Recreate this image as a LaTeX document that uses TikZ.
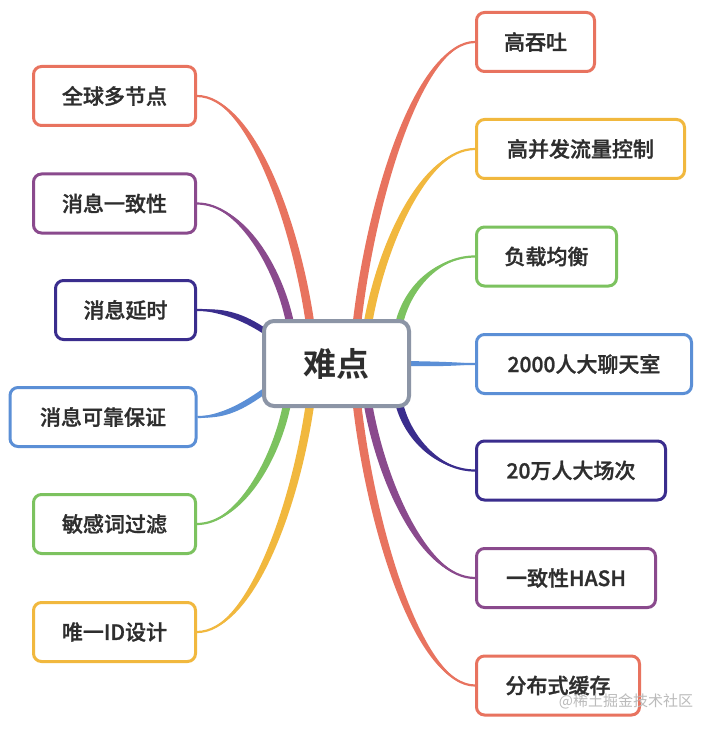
\documentclass[tikz,border=0pt]{standalone}
\usepackage{fontspec}
\setmainfont{Noto Sans CJK SC}[BoldFont={Noto Sans CJK SC Bold}]
\newfontfamily\labelfont{Noto Sans CJK SC Medium}[FakeBold=1.2]
\usetikzlibrary{calc}
\definecolor{cred}{HTML}{E8735F}
\definecolor{cyellow}{HTML}{F1B83E}
\definecolor{cgreen}{HTML}{7CC25F}
\definecolor{cblue}{HTML}{5B8FD6}
\definecolor{cindigo}{HTML}{3A2D8D}
\definecolor{cpurple}{HTML}{8A4A8D}
\definecolor{cgray}{HTML}{8C95A6}
\definecolor{textgray}{HTML}{2E2E2E}
\definecolor{wmgray}{HTML}{BBBBBB}
\pgfdeclarelayer{bglayer}
\pgfdeclarelayer{linelayer}
\pgfsetlayers{bglayer,linelayer,main}
% #1 colour, #2 start (centre side), #3 control near start, #4 control near end, #5 end (leaf side), #6 half-width offset
\newcommand\branchcurve[6]{%
  \fill[#1] (#5) .. controls ($(#4)+0.9*(#6)$) and ($(#3)+(#6)$) .. ($(#2)+(#6)$)
     -- ($(#2)-(#6)$) .. controls ($(#3)-(#6)$) and ($(#4)-0.9*(#6)$) .. (#5) -- cycle;
  \draw[#1, line width=2.2pt] (#5) .. controls (#4) and (#3) .. (#2);
}
\begin{document}
\begin{tikzpicture}[x=1pt,y=-1pt,
  leaf/.style={draw, line width=3pt, rounded corners=8pt, fill=white,
    minimum height=59pt, inner sep=0pt, anchor=center,
    font=\labelfont\fontsize{21}{25}\selectfont, text=textgray},
  hub/.style={draw=cgray, line width=4pt, rounded corners=10pt, fill=white,
    minimum width=145pt, minimum height=85pt, inner sep=0pt,
    font=\bfseries\fontsize{33}{40}\selectfont, text=textgray}]
\begin{pgfonlayer}{bglayer}
\fill[white] (0,0) rectangle (714,730);
\end{pgfonlayer}
\useasboundingbox (0,0) rectangle (714,730);

% centre
\node[hub] (c) at (336.5,363.5) {难点};

% right leaves
\node[leaf, draw=cred,    minimum width=118pt] (r1) at (535.5,42)    {高吞吐};
\node[leaf, draw=cyellow, minimum width=208pt] (r2) at (580.5,149)   {高并发流量控制};
\node[leaf, draw=cgreen,  minimum width=140pt] (r3) at (546.5,256.5) {负载均衡};
\node[leaf, draw=cblue,   minimum width=215pt] (r4) at (584,364)     {2000人大聊天室};
\node[leaf, draw=cindigo, minimum width=189pt] (r5) at (571,470.5)   {20万人大场次};
\node[leaf, draw=cpurple, minimum width=179pt] (r6) at (566,578)     {一致性HASH};
\node[leaf, draw=cred,    minimum width=163pt] (r7) at (558,685.5)   {分布式缓存};

% left leaves
\node[leaf, draw=cred,    minimum width=162pt] (l1) at (114.5,96)    {全球多节点};
\node[leaf, draw=cpurple, minimum width=162pt] (l2) at (114.5,203.5) {消息一致性};
\node[leaf, draw=cindigo, minimum width=140pt] (l3) at (125.5,310)   {消息延时};
\node[leaf, draw=cblue,   minimum width=186pt] (l4) at (103,417)     {消息可靠保证};
\node[leaf, draw=cgreen,  minimum width=162pt] (l5) at (114.5,524)   {敏感词过滤};
\node[leaf, draw=cyellow, minimum width=162pt] (l6) at (114.5,632)   {唯一ID设计};

% watermark
\node[font=\fontsize{15}{18}\selectfont, text=wmgray, inner sep=0pt] (wm) at (626,701) {@稀土掘金技术社区};

% attachment points on the centre box
\coordinate (sl1) at ($(c.north west)+(48,4)$);
\coordinate (sl2) at ($(c.north west)+(28,4)$);
\coordinate (sl3) at ($(c.north west)+(4,13)$);
\coordinate (sl4) at ($(c.south west)+(4,-18)$);
\coordinate (sl5) at ($(c.south west)+(25,-4)$);
\coordinate (sl6) at ($(c.south west)+(48,-4)$);
\coordinate (sr1) at ($(c.north west)+(95,4)$);
\coordinate (sr2) at ($(c.north west)+(106,4)$);
\coordinate (sr3) at ($(c.north west)+(137,5)$);
\coordinate (sr4) at ($(c.east)+(-4,0)$);
\coordinate (sr5) at ($(c.south west)+(137,-5)$);
\coordinate (sr6) at ($(c.south west)+(106,-4)$);
\coordinate (sr7) at ($(c.south west)+(95,-4)$);

\begin{pgfonlayer}{linelayer}
\branchcurve{cred}{sl1}{295,220}{250,96}{l1.east}{4.3,0}
\branchcurve{cpurple}{sl2}{279,268}{241,203.5}{l2.east}{4,0}
\branchcurve{cindigo}{sl3}{245,318}{225,310}{l3.east}{0,3.5}
\branchcurve{cblue}{sl4}{245,405}{225,417}{l4.east}{0,3.5}
\branchcurve{cgreen}{sl5}{276,460}{239,524}{l5.east}{4,0}
\branchcurve{cyellow}{sl6}{295,508}{250,632}{l6.east}{4.3,0}
\branchcurve{cred}{sr1}{372,194}{420,42}{r1.west}{4.3,0}
\branchcurve{cyellow}{sr2}{382,243}{425,149}{r2.west}{4.3,0}
\branchcurve{cgreen}{sr3}{408,285}{440,256.5}{r3.west}{4,0}
\branchcurve{cblue}{sr4}{430,364}{455,364}{r4.west}{0,2.5}
\branchcurve{cindigo}{sr5}{408,440}{440,470.5}{r5.west}{4,0}
\branchcurve{cpurple}{sr6}{382,484}{425,578}{r6.west}{4.3,0}
\branchcurve{cred}{sr7}{372,533}{420,685.5}{r7.west}{4.3,0}
\end{pgfonlayer}
\end{tikzpicture}
\end{document}
